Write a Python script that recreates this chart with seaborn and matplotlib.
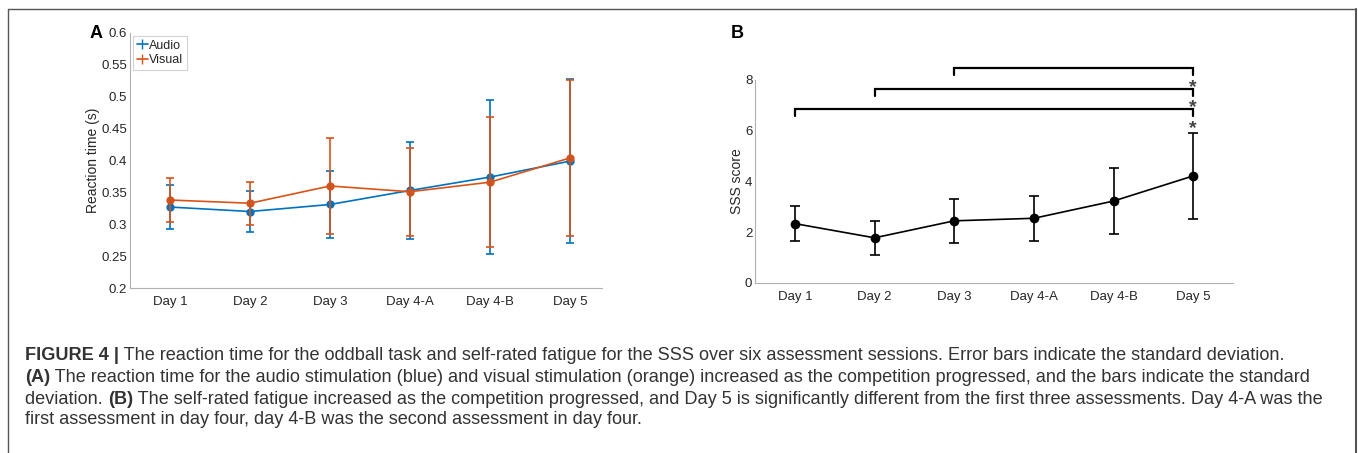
import matplotlib
matplotlib.use("Agg")
import matplotlib.pyplot as plt
from matplotlib.lines import Line2D
import numpy as np
import pandas as pd
import seaborn as sns

sessions = ["Day 1", "Day 2", "Day 3", "Day 4-A", "Day 4-B", "Day 5"]

audio_mean = [0.327, 0.320, 0.331, 0.353, 0.374, 0.399]
audio_sd = [0.034, 0.032, 0.052, 0.076, 0.121, 0.129]
visual_mean = [0.338, 0.333, 0.360, 0.351, 0.366, 0.404]
visual_sd = [0.035, 0.034, 0.075, 0.069, 0.102, 0.123]

sss_mean = [2.34, 1.78, 2.45, 2.55, 3.23, 4.22]
sss_sd = [0.70, 0.66, 0.87, 0.88, 1.31, 1.71]

# significant pairs vs Day 5
sig_from = ["Day 1", "Day 2", "Day 3"]
sig_height = [6.84, 7.64, 8.46]

caption = [
    [("FIGURE 4 |", "bold"), (" The reaction time for the oddball task and self-rated fatigue for the SSS over six assessment sessions. Error bars indicate the standard deviation.", "normal")],
    [("(A)", "bold"), (" The reaction time for the audio stimulation (blue) and visual stimulation (orange) increased as the competition progressed, and the bars indicate the standard", "normal")],
    [("deviation. ", "normal"), ("(B)", "bold"), (" The self-rated fatigue increased as the competition progressed, and Day 5 is significantly different from the first three assessments. Day 4-A was the", "normal")],
    [("first assessment in day four, day 4-B was the second assessment in day four.", "normal")],
]

sns.set_style("white")
plt.rcParams["font.family"] = ["Liberation Sans", "DejaVu Sans"]
plt.rcParams["xtick.direction"] = "in"
plt.rcParams["ytick.direction"] = "in"

blue = "#0072BD"
orange = "#D95319"
axis_gray = "#b0b0b0"
text_gray = "#262626"

fig = plt.figure(figsize=(13.58, 4.53), dpi=100)

# ---- panel A
rt = pd.DataFrame({
    "session": sessions * 2,
    "rt": audio_mean + visual_mean,
    "sd": audio_sd + visual_sd,
    "cond": ["Audio"] * 6 + ["Visual"] * 6,
})
axA = fig.add_axes([0.0957, 0.3642, 0.3476, 0.5630])
sns.lineplot(data=rt, x="session", y="rt", hue="cond", palette=[blue, orange],
             marker="o", markersize=6, markeredgewidth=0, linewidth=1.2,
             ax=axA, legend=False, sort=False)
x = np.arange(len(sessions))
axA.errorbar(x, audio_mean, yerr=audio_sd, color=blue, fmt="none",
             capsize=3, elinewidth=1.2, capthick=1.2)
axA.errorbar(x, visual_mean, yerr=visual_sd, color=orange, fmt="none",
             capsize=3, elinewidth=1.2, capthick=1.2)
axA.set_xlim(-0.5, 5.4)
axA.set_ylim(0.2, 0.6)
axA.set_yticks(np.arange(0.2, 0.601, 0.05))
axA.set_yticklabels(["0.2", "0.25", "0.3", "0.35", "0.4", "0.45", "0.5", "0.55", "0.6"])
axA.set_xlabel("")
axA.set_ylabel("Reaction time (s)", fontsize=10, color=text_gray, labelpad=1)
hA_leg = Line2D([], [], color=blue, marker="|", markersize=7, lw=1.2)
hV_leg = Line2D([], [], color=orange, marker="|", markersize=7, lw=1.2)
leg = axA.legend([hA_leg, hV_leg], ["Audio", "Visual"], loc="upper left",
                 fontsize=9, handlelength=0.9, handletextpad=0.1,
                 borderpad=0.3, labelspacing=0.2, frameon=True, fancybox=False,
                 bbox_to_anchor=(0.0, 1.0), borderaxespad=0.25)
leg.get_frame().set_edgecolor("#c8c8c8")
leg.get_frame().set_linewidth(0.8)

# ---- panel B
sss = pd.DataFrame({"session": sessions, "score": sss_mean, "sd": sss_sd})
axB = fig.add_axes([0.556, 0.3753, 0.352, 0.4481])
sns.lineplot(data=sss, x="session", y="score", color="black", marker="o",
             markersize=7, markeredgewidth=0, linewidth=1.2, ax=axB, sort=False)
axB.errorbar(x, sss_mean, yerr=sss_sd, color="black", fmt="none",
             capsize=3.5, elinewidth=1.2, capthick=1.2)
axB.set_xlim(-0.5, 5.5)
axB.set_ylim(0, 8)
axB.set_yticks([0, 2, 4, 6, 8])
axB.set_xlabel("")
axB.set_ylabel("SSS score", fontsize=10, color=text_gray, labelpad=1)

last = sessions.index("Day 5")
for s, h in zip(sig_from, sig_height):
    i = sessions.index(s)
    axB.plot([i, i, last, last], [h - 0.27, h, h, h - 0.27], color="black",
             lw=1.6, clip_on=False, solid_joinstyle="miter")
    axB.text(last, h - 0.92, "*", ha="center", va="baseline", fontsize=14,
             fontweight="bold", color="#444444", clip_on=False)

for ax in (axA, axB):
    sns.despine(ax=ax)
    for side in ("left", "bottom"):
        ax.spines[side].set_color(axis_gray)
        ax.spines[side].set_linewidth(0.8)
    ax.tick_params(axis="both", colors=axis_gray, labelcolor=text_gray,
                   labelsize=9.5, length=4, width=0.8)
    ax.tick_params(axis="x", pad=6)
    ax.tick_params(axis="y", pad=2)

fig.text(0.066, 0.927, "A", fontsize=13, fontweight="bold", va="center", color="black")
fig.text(0.538, 0.927, "B", fontsize=13, fontweight="bold", va="center", color="black")

# ---- frame lines
fig.add_artist(Line2D([8 / 1358, 8 / 1358], [0, 1 - 9 / 453], color="#555555", lw=1.0))
fig.add_artist(Line2D([8 / 1358, 1356 / 1358], [1 - 9 / 453, 1 - 9 / 453], color="#555555", lw=1.0))
fig.add_artist(Line2D([1356 / 1358, 1356 / 1358], [0, 1 - 9 / 453], color="#555555", lw=1.5))

# ---- caption
fig.canvas.draw()
renderer = fig.canvas.get_renderer()
line_y = [355, 377, 399, 420]
for parts, yy in zip(caption, line_y):
    xpix = 25
    for txt, weight in parts:
        t = fig.text(xpix / 1358, 1 - yy / 453, txt, fontsize=13.1, fontweight=weight,
                     va="center", ha="left", color="#333333")
        xpix += t.get_window_extent(renderer).width

fig.savefig("out.png", dpi=100)
